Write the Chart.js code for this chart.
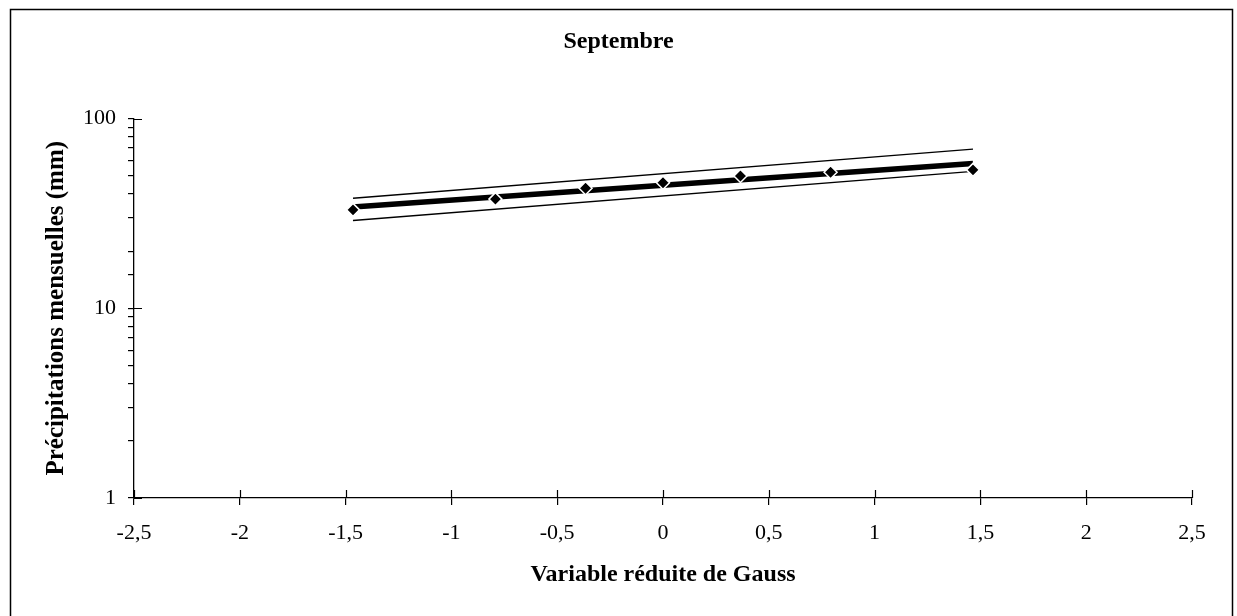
<!DOCTYPE html>
<html>
<head>
<meta charset="utf-8">
<script src="https://cdn.jsdelivr.net/npm/chart.js@4/dist/chart.umd.min.js"></script>
<style>
  html, body { margin: 0; padding: 0; background: #fff; }
  #wrap { width: 1237px; height: 616px; }
</style>
</head>
<body>
<div id="wrap"><canvas id="pluieChart"></canvas></div>
<script>
// Gauss reduced variable for the 7 ranked September totals
const gaussX = [-1.465, -0.792, -0.366, 0, 0.366, 0.792, 1.465];
const pluieMm = [33.0, 37.6, 42.9, 45.9, 49.8, 52.1, 53.6];

// fitted log-normal law and its confidence band (ends of each line)
const ajustX = [-1.465, 1.465];
const ajustMm = [34.2, 57.9];
const bandeSupMm = [38.0, 68.9];
const bandeInfMm = [29.0, 52.6];

const yMajor = [1, 10, 100];

const toPts = (xs, ys) => xs.map((x, i) => ({ x: x, y: ys[i] }));
const serif = 'Liberation Serif, Times New Roman, serif';

// white background + frame around the whole figure
const cadre = {
  id: 'cadre',
  beforeDraw(chart) {
    const c = chart.ctx;
    c.save();
    c.fillStyle = '#fff';
    c.fillRect(0, 0, chart.width, chart.height);
    c.strokeStyle = '#000';
    c.lineWidth = 1.5;
    c.strokeRect(10.5, 9.5, 1222, 620);
    c.restore();
  }
};

// major ticks cross the axis: add the inner half
const ticksCroises = {
  id: 'ticksCroises',
  afterDraw(chart) {
    const c = chart.ctx;
    const xs = chart.scales.x, ys = chart.scales.y;
    const area = chart.chartArea;
    c.save();
    c.strokeStyle = '#000';
    c.lineWidth = 1.2;
    c.beginPath();
    xs.ticks.forEach(t => {
      const px = Math.round(xs.getPixelForValue(t.value)) + 0.5;
      c.moveTo(px, area.bottom);
      c.lineTo(px, area.bottom - 8);
    });
    yMajor.forEach(v => {
      const py = Math.round(ys.getPixelForValue(v)) + 0.5;
      c.moveTo(area.left, py);
      c.lineTo(area.left + 8, py);
    });
    c.stroke();
    c.restore();
  }
};

new Chart(document.getElementById('pluieChart'), {
  type: 'scatter',
  data: {
    datasets: [
      {
        label: 'Observations',
        data: toPts(gaussX, pluieMm),
        showLine: false,
        pointStyle: 'rectRot',
        pointRadius: 6.5,
        pointBackgroundColor: '#000',
        pointBorderColor: '#fff',
        pointBorderWidth: 1.5
      },
      {
        label: 'Ajustement',
        data: toPts(ajustX, ajustMm),
        showLine: true,
        borderColor: '#000',
        borderWidth: 5.5,
        pointRadius: 0
      },
      {
        label: 'Borne supérieure',
        data: toPts(ajustX, bandeSupMm),
        showLine: true,
        borderColor: '#000',
        borderWidth: 1.3,
        pointRadius: 0
      },
      {
        label: 'Borne inférieure',
        data: toPts(ajustX, bandeInfMm),
        showLine: true,
        borderColor: '#000',
        borderWidth: 1.3,
        pointRadius: 0
      }
    ]
  },
  options: {
    responsive: true,
    maintainAspectRatio: false,
    animation: false,
    layout: { padding: 0 },
    plugins: {
      legend: { display: false },
      tooltip: { enabled: false },
      title: {
        display: true,
        text: 'Septembre',
        color: '#000',
        font: { family: serif, size: 24, weight: 'bold' },
        padding: { top: 27, bottom: 62.7 }
      }
    },
    scales: {
      x: {
        type: 'linear',
        min: -2.5,
        max: 2.5,
        afterFit(scale) { scale.height = 118; },
        ticks: {
          stepSize: 0.5,
          color: '#000',
          padding: 15,
          font: { family: serif, size: 22 },
          callback: v => String(Math.round(v * 10) / 10).replace('.', ',')
        },
        grid: { drawOnChartArea: false, drawTicks: true, tickLength: 7, color: '#000', lineWidth: 1.2 },
        border: { display: true, color: '#000', width: 1.3 },
        title: {
          display: true,
          text: 'Variable réduite de Gauss',
          color: '#000',
          font: { family: serif, size: 24, weight: 'bold' },
          padding: { top: 0, bottom: 27 }
        }
      },
      y: {
        type: 'logarithmic',
        min: 1,
        max: 100,
        afterFit(scale) { scale.width = 134; },
        ticks: {
          autoSkip: false,
          color: '#000',
          padding: 12,
          font: { family: serif, size: 22 },
          callback: v => (yMajor.includes(v) ? String(v) : '')
        },
        grid: { drawOnChartArea: false, drawTicks: true, tickLength: 6, color: '#000', lineWidth: 1.2 },
        border: { display: true, color: '#000', width: 1.3 },
        title: {
          display: true,
          text: 'Précipitations mensuelles (mm)',
          color: '#000',
          font: { family: serif, size: 25, weight: 'bold' },
          padding: { top: 42, bottom: 0 }
        }
      },
      // empty right-hand margin so the title stays centred on the page
      marge: {
        type: 'linear',
        position: 'right',
        display: true,
        afterFit(scale) { scale.width = 45; },
        ticks: { display: false },
        grid: { display: false, drawTicks: false },
        border: { display: false }
      }
    }
  },
  plugins: [cadre, ticksCroises]
});
</script>
</body>
</html>
